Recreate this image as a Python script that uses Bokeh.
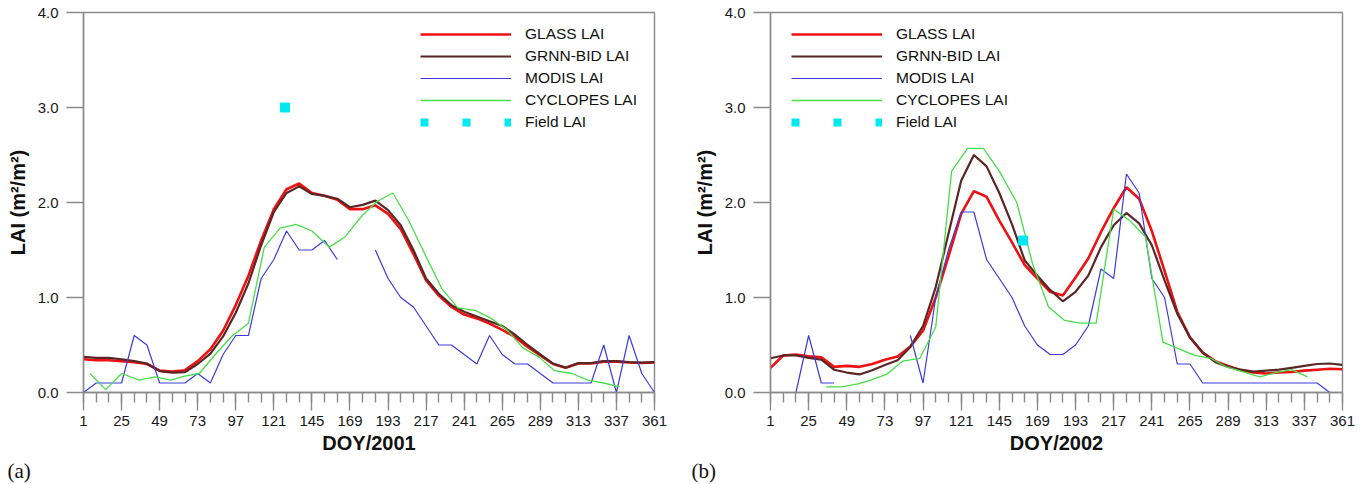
import math
from bokeh.plotting import figure
from bokeh.models import (Range1d, FixedTicker, NumeralTickFormatter, Legend,
                          LegendItem, Title)
from bokeh.layouts import row
from bokeh.embed import file_html
from bokeh.resources import INLINE

nan = float("nan")

# ---------------- data ----------------
doy_8day = [1, 9, 17, 25, 33, 41, 49, 57, 65, 73, 81, 89, 97, 105, 113, 121,
            129, 137, 145, 153, 161, 169, 177, 185, 193, 201, 209, 217, 225,
            233, 241, 249, 257, 265, 273, 281, 289, 297, 305, 313, 321, 329,
            337, 345, 353, 361]
x_major_ticks = [1, 25, 49, 73, 97, 121, 145, 169, 193, 217, 241, 265, 289,
                 313, 337, 361]
y_major_ticks = [0, 1, 2, 3, 4]

# 2001
glass_2001 = [0.35, 0.34, 0.34, 0.33, 0.32, 0.30, 0.23, 0.22, 0.235, 0.33,
              0.455, 0.65, 0.92, 1.23, 1.60, 1.93, 2.14, 2.20, 2.10, 2.07,
              2.03, 1.93, 1.93, 1.97, 1.88, 1.72, 1.46, 1.18, 1.02, 0.90,
              0.82, 0.78, 0.725, 0.66, 0.585, 0.48, 0.39, 0.30, 0.26, 0.305,
              0.305, 0.325, 0.325, 0.315, 0.31, 0.315]
grnn_2001 = [0.375, 0.365, 0.365, 0.35, 0.33, 0.305, 0.225, 0.21, 0.215, 0.30,
             0.41, 0.59, 0.84, 1.15, 1.55, 1.90, 2.10, 2.17, 2.09, 2.07,
             2.04, 1.95, 1.975, 2.02, 1.92, 1.76, 1.50, 1.20, 1.04, 0.92,
             0.85, 0.80, 0.75, 0.70, 0.61, 0.50, 0.40, 0.305, 0.26, 0.31,
             0.31, 0.33, 0.33, 0.32, 0.315, 0.32]
modis_2001 = [0.0, 0.1, 0.1, 0.1, 0.6, 0.5, 0.1, 0.1, 0.1, 0.2,
              0.1, 0.4, 0.6, 0.6, 1.2, 1.4, 1.7, 1.5, 1.5, 1.6,
              1.4, nan, nan, 1.5, 1.2, 1.0, 0.9, 0.7, 0.5, 0.5,
              0.4, 0.3, 0.6, 0.4, 0.3, 0.3, 0.2, 0.1, 0.1, 0.1,
              0.1, 0.5, 0.0, 0.6, 0.2, 0.0]
cyclopes_doy_2001 = [5, 15, 25, 36, 46, 56, 64, 74, 84, 95, 105, 115, 125, 135,
                     145, 156, 166, 176, 186, 196, 206, 217, 227, 237, 248, 258,
                     268, 278, 288, 298, 309, 319, 329, 339]
cyclopes_2001 = [0.20, 0.03, 0.20, 0.13, 0.165, 0.13, 0.17, 0.20, 0.40, 0.60,
                 0.73, 1.53, 1.73, 1.77, 1.70, 1.53, 1.64, 1.85, 2.01, 2.10,
                 1.81, 1.43, 1.09, 0.89, 0.865, 0.78, 0.66, 0.47, 0.375, 0.23,
                 0.20, 0.13, 0.10, 0.06]
field_doy_2001 = [128]
field_2001 = [3.0]

# 2002
glass_2002 = [0.26, 0.39, 0.40, 0.38, 0.37, 0.27, 0.28, 0.27, 0.30, 0.345,
              0.38, 0.485, 0.65, 1.00, 1.43, 1.88, 2.12, 2.06, 1.81, 1.58,
              1.34, 1.20, 1.06, 1.02, 1.21, 1.41, 1.69, 1.94, 2.16, 2.04,
              1.70, 1.28, 0.85, 0.58, 0.42, 0.33, 0.28, 0.235, 0.21, 0.20,
              0.21, 0.215, 0.23, 0.24, 0.25, 0.245]
grnn_2002 = [0.36, 0.39, 0.39, 0.365, 0.345, 0.24, 0.21, 0.19, 0.235, 0.29,
             0.34, 0.48, 0.70, 1.11, 1.67, 2.23, 2.50, 2.38, 2.10, 1.77,
             1.39, 1.23, 1.08, 0.96, 1.06, 1.23, 1.53, 1.76, 1.89, 1.78,
             1.55, 1.18, 0.83, 0.58, 0.42, 0.32, 0.27, 0.24, 0.22, 0.23,
             0.24, 0.26, 0.28, 0.30, 0.305, 0.29]
modis_2002 = [nan, nan, 0.0, 0.6, 0.1, 0.1, nan, nan, nan, nan,
              nan, 0.6, 0.1, 1.0, 1.5, 1.9, 1.9, 1.4, 1.2, 1.0,
              0.7, 0.5, 0.4, 0.4, 0.5, 0.7, 1.3, 1.2, 2.3, 2.1,
              1.2, 1.0, 0.3, 0.3, 0.1, 0.1, 0.1, 0.1, 0.1, 0.1,
              0.1, 0.1, 0.1, 0.1, 0.0, nan]
cyclopes_doy_2002 = [36, 46, 56, 64, 74, 84, 95, 105, 115, 125, 135, 145, 156,
                     166, 176, 186, 196, 206, 217, 227, 237, 248, 258, 268, 278,
                     288, 298, 309, 319, 329, 339]
cyclopes_2002 = [0.06, 0.06, 0.09, 0.13, 0.19, 0.33, 0.36, 0.69, 2.33, 2.57,
                 2.57, 2.33, 2.00, 1.35, 0.90, 0.76, 0.73, 0.73, 1.93, 1.81,
                 1.64, 0.53, 0.46, 0.39, 0.36, 0.27, 0.22, 0.165, 0.21, 0.24,
                 0.165]
field_doy_2002 = [160]
field_2002 = [1.6]

# ---------------- styling ----------------
C_GLASS = "#ee1111"
C_GRNN = "#5a2626"
C_MODIS = "#3c3cdc"
C_CYC = "#48de48"
C_FIELD = "#00e8f0"
AX = "#8a8a8a"
FONT = "Liberation Sans"


def panel(year, glass, grnn, modis, cyc_doy, cyc, f_doy, f_val, tag,
          b_left, b_right, legend_x):
    p = figure(width=684, height=484, output_backend="svg",
               toolbar_location=None,
               x_range=Range1d(1, 361), y_range=Range1d(0, 4),
               min_border_left=b_left, min_border_right=b_right,
               min_border_top=12, min_border_bottom=92)
    p.grid.visible = False
    p.outline_line_color = AX
    p.outline_line_width = 1.4
    p.background_fill_color = "white"
    p.border_fill_color = "white"

    # x axis
    xa = p.xaxis[0]
    xa.ticker = FixedTicker(ticks=x_major_ticks, minor_ticks=doy_8day)
    xa.axis_line_color = AX
    xa.axis_line_width = 1.4
    xa.major_tick_line_color = AX
    xa.major_tick_line_width = 1.4
    xa.minor_tick_line_color = AX
    xa.minor_tick_line_width = 1.4
    xa.major_tick_out = 18
    xa.major_tick_in = 0
    xa.minor_tick_out = 10
    xa.minor_tick_in = 0
    xa.major_label_text_font = FONT
    xa.major_label_text_font_size = "15px"
    xa.major_label_text_color = "#1a1a1a"
    xa.major_label_standoff = 5
    xa.axis_label = "DOY/%d" % year
    xa.axis_label_text_font = FONT
    xa.axis_label_text_font_size = "20px"
    xa.axis_label_text_font_style = "bold"
    xa.axis_label_text_color = "#111111"
    xa.axis_label_standoff = 3

    # y axis
    ya = p.yaxis[0]
    ya.ticker = FixedTicker(ticks=y_major_ticks, minor_ticks=[])
    ya.formatter = NumeralTickFormatter(format="0.0")
    ya.axis_line_color = AX
    ya.axis_line_width = 1.4
    ya.major_tick_line_color = AX
    ya.major_tick_line_width = 1.4
    ya.major_tick_out = 17
    ya.major_tick_in = 0
    ya.minor_tick_line_color = None
    ya.major_label_text_font = FONT
    ya.major_label_text_font_size = "15px"
    ya.major_label_text_color = "#1a1a1a"
    ya.major_label_standoff = 8
    ya.axis_label = "LAI (m²/m²)"
    ya.axis_label_text_font = FONT
    ya.axis_label_text_font_size = "20px"
    ya.axis_label_text_font_style = "bold"
    ya.axis_label_text_color = "#111111"
    ya.axis_label_standoff = 6

    r_glass = p.line(doy_8day, glass, line_color=C_GLASS, line_width=2.6)
    r_grnn = p.line(doy_8day, grnn, line_color=C_GRNN, line_width=2.2)
    r_modis = p.line(doy_8day, modis, line_color=C_MODIS, line_width=1.2)
    r_cyc = p.line(cyc_doy, cyc, line_color=C_CYC, line_width=1.3)
    r_field_leg = p.line(f_doy, f_val, line_color=C_FIELD, line_width=8,
                         line_dash="8 34", line_cap="butt")
    p.scatter(f_doy, f_val, marker="square", size=9, fill_color=C_FIELD,
              line_color=C_FIELD)

    legend = Legend(items=[
        LegendItem(label="GLASS LAI", renderers=[r_glass]),
        LegendItem(label="GRNN-BID LAI", renderers=[r_grnn]),
        LegendItem(label="MODIS LAI", renderers=[r_modis]),
        LegendItem(label="CYCLOPES LAI", renderers=[r_cyc]),
        LegendItem(label="Field LAI", renderers=[r_field_leg]),
    ], location=(legend_x, 260))
    legend.padding = 0
    legend.margin = 0
    legend.spacing = 2
    legend.glyph_width = 91
    legend.glyph_height = 20
    legend.label_height = 20
    legend.label_standoff = 14
    legend.label_text_font = FONT
    legend.label_text_font_size = "15.5px"
    legend.label_text_color = "#111111"
    legend.border_line_alpha = 0
    legend.background_fill_alpha = 0
    p.add_layout(legend)

    tag_title = Title(text=tag, align="left", offset=-(b_left - 7),
                      text_font="Liberation Serif", text_font_size="21px",
                      text_font_style="normal", text_color="#111111",
                      standoff=0)
    p.add_layout(tag_title, "below")
    return p


p1 = panel(2001, glass_2001, grnn_2001, modis_2001, cyclopes_doy_2001,
           cyclopes_2001, field_doy_2001, field_2001, "(a)", 83, 30, 337)
p2 = panel(2002, glass_2002, grnn_2002, modis_2002, cyclopes_doy_2002,
           cyclopes_2002, field_doy_2002, field_2002, "(b)", 86, 26, 21)

layout = row(p1, p2)
open("out.html", "w").write(file_html(layout, INLINE))
